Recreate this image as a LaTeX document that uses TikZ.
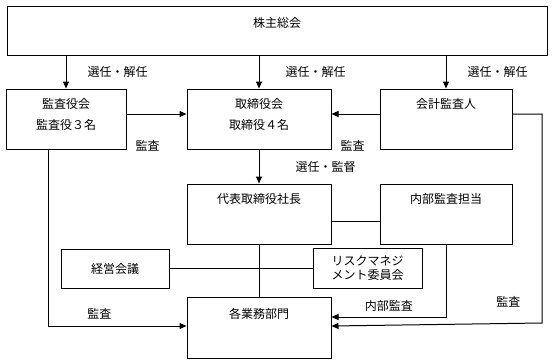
\documentclass[tikz,border=0pt]{standalone}
\usepackage{fontspec}
\newfontfamily\jpfont{Noto Sans CJK JP}
\usetikzlibrary{arrows.meta, positioning}
\tikzstyle{unit} = [rectangle, draw=black, line width=1pt, fill=white, align=center, font=\jpfont\fontsize{12}{21.5}\selectfont, inner sep=0pt, text height=19pt, text depth=41pt, minimum height=60pt]
\tikzstyle{twoline} = [text height=40.5pt, text depth=19.5pt]
\tikzstyle{meeting} = [rectangle, draw=black, line width=1pt, fill=white, align=center, font=\jpfont\fontsize{12}{14}\selectfont, inner sep=0pt, minimum height=40pt]
\tikzstyle{note} = [font=\jpfont\fontsize{12}{14}\selectfont, inner sep=0pt]
\tikzstyle{flow} = [line width=1pt, -{Triangle[length=7pt, width=6pt]}]
\tikzstyle{link} = [line width=1pt]

\begin{document}
\begin{tikzpicture}[x=1pt, y=-1pt]
\useasboundingbox (0,0) rectangle (553,361);

\node (kabu) [unit, minimum width=540pt, minimum height=48pt, text height=21pt, text depth=27pt] at (277,31) {株主総会};
\node (torishimari) [unit, twoline, minimum width=144pt, below=33pt of kabu, xshift=-18pt] {取締役会\\取締役４名};
\node (kansayaku) [unit, twoline, minimum width=120pt, left=60pt of torishimari] {監査役会\\監査役３名};
\node (kaikei) [unit, minimum width=132pt, right=48pt of torishimari] {会計監査人};
\node (daihyo) [unit, minimum width=144pt, below=34pt of torishimari] {代表取締役社長};
\node (naibu) [unit, minimum width=132pt, right=48pt of daihyo] {内部監査担当};
\node (kakugyomu) [unit, minimum width=144pt, minimum height=61pt, text height=21pt, text depth=40pt, below=52pt of daihyo] {各業務部門};
\node (keiei) [meeting, minimum width=108pt, minimum height=39pt] at (115,268.5) {経営会議};
\node (risk) [meeting, minimum width=109pt] at (367.5,268) {リスクマネジ\\メント委員会};
\coordinate (rightbend) at (542,323);

\draw[flow] (kabu.south -| kansayaku) -- node[note, midway, right=21pt] {選任・解任} (kansayaku);
\draw[flow] (kabu.south -| torishimari) -- node[note, midway, right=26pt] {選任・解任} (torishimari);
\draw[flow] (kabu.south -| kaikei) -- node[note, midway, right=21pt] {選任・解任} (kaikei);
\draw[flow] ([yshift=5pt]kansayaku.east) -- node[note, midway, yshift=-32pt, xshift=-9pt] {監査} ([yshift=5pt]torishimari.west);
\draw[flow] ([yshift=5pt]kaikei.west) -- node[note, midway, yshift=-32pt, xshift=-3pt] {監査} ([yshift=5pt]torishimari.east);
\draw[flow] (torishimari) -- node[note, midway, right=36pt] {選任・監督} (daihyo);
\draw[link] ([yshift=-7pt]daihyo.east) -- ([yshift=-7pt]naibu.west);
\draw[link] (daihyo) -- (kakugyomu);
\draw[link] (keiei.east) -- (keiei.east -| risk.west);
\draw[flow] ([xshift=-18pt]kansayaku.south) |- node[note, pos=0.75, above=6pt, xshift=-18pt] {監査} ([yshift=1.5pt]kakugyomu.west);
\draw[flow] (naibu.south) |- node[note, pos=0.75, above=5pt] {内部監査} ([yshift=10.5pt]kakugyomu.east);
\draw[flow] ([yshift=5pt]kaikei.east) -| (rightbend) -- node[note, pos=0.16, above=16pt] {監査} ([yshift=1.5pt]kakugyomu.east);

\end{tikzpicture}
\end{document}
